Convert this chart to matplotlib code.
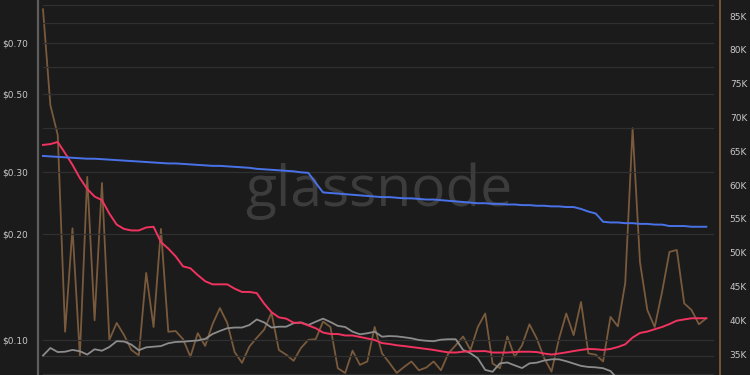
import matplotlib
matplotlib.use("Agg")
import matplotlib.pyplot as plt
import matplotlib.ticker as mticker
import numpy as np

# ---- data ----
price_blue = [0.334, 0.333, 0.332, 0.331, 0.330, 0.329, 0.328, 0.328, 0.327, 0.326,
              0.325, 0.324, 0.323, 0.322, 0.321, 0.320, 0.319, 0.318, 0.318, 0.317,
              0.316, 0.315, 0.314, 0.313, 0.313, 0.312, 0.311, 0.310, 0.309, 0.307,
              0.306, 0.305, 0.304, 0.303, 0.302, 0.300, 0.299, 0.280, 0.263, 0.262,
              0.261, 0.260, 0.259, 0.258, 0.257, 0.256, 0.255, 0.255, 0.254, 0.253,
              0.253, 0.252, 0.251, 0.251, 0.250, 0.249, 0.248, 0.247, 0.246, 0.245,
              0.245, 0.244, 0.244, 0.243, 0.243, 0.242, 0.242, 0.241, 0.241, 0.240,
              0.240, 0.239, 0.239, 0.236, 0.232, 0.229, 0.217, 0.216, 0.216, 0.215,
              0.215, 0.214, 0.214, 0.213, 0.213, 0.211, 0.211, 0.211, 0.210, 0.210,
              0.210]

price_red = [0.359, 0.361, 0.366, 0.340, 0.315, 0.289, 0.269, 0.256, 0.250, 0.229,
             0.213, 0.207, 0.205, 0.205, 0.209, 0.210, 0.190, 0.182, 0.173, 0.162,
             0.160, 0.153, 0.147, 0.144, 0.144, 0.144, 0.140, 0.137, 0.137, 0.136,
             0.127, 0.120, 0.116, 0.115, 0.112, 0.112, 0.110, 0.108, 0.105, 0.104,
             0.104, 0.103, 0.103, 0.102, 0.101, 0.100, 0.098, 0.0974, 0.0966, 0.0961,
             0.0955, 0.0949, 0.0943, 0.0937, 0.0929, 0.0922, 0.0921, 0.0926, 0.0929, 0.0929,
             0.0930, 0.0921, 0.0921, 0.0921, 0.0924, 0.0926, 0.0926, 0.0924, 0.0915, 0.0909,
             0.0915, 0.0922, 0.0930, 0.0937, 0.0943, 0.0941, 0.0937, 0.0943, 0.0955, 0.0972,
             0.1016, 0.1047, 0.1057, 0.1073, 0.1089, 0.1110, 0.1135, 0.1144, 0.1153, 0.1153,
             0.1153]

price_grey = [0.0903, 0.0949, 0.0924, 0.0926, 0.0937, 0.0929, 0.0909, 0.0941, 0.0932, 0.0955,
              0.0992, 0.0990, 0.0970, 0.0935, 0.0953, 0.0957, 0.0961, 0.0979, 0.0987, 0.0989,
              0.0993, 0.0997, 0.1007, 0.1040, 0.1061, 0.1080, 0.1085, 0.1085, 0.1103, 0.1144,
              0.1122, 0.1085, 0.1091, 0.1091, 0.1116, 0.1122, 0.1103, 0.1127, 0.1150, 0.1125,
              0.1097, 0.1089, 0.1056, 0.1038, 0.1045, 0.1056, 0.1022, 0.1026, 0.1024, 0.1018,
              0.1011, 0.1000, 0.0995, 0.0992, 0.1002, 0.1005, 0.1005, 0.0937, 0.0917, 0.0887,
              0.0822, 0.0812, 0.0858, 0.0863, 0.0847, 0.0832, 0.0858, 0.0862, 0.0874, 0.0881,
              0.0881, 0.0870, 0.0857, 0.0844, 0.0838, 0.0836, 0.0831, 0.0816, 0.0774]

volume_k = [86.0, 71.8, 67.4, 38.3, 53.6, 34.7, 61.2, 40.0, 60.3, 37.1,
            39.6, 37.8, 35.6, 34.8, 47.0, 39.0, 53.5, 38.3, 38.4, 37.2,
            34.6, 38.1, 36.2, 39.4, 41.8, 39.6, 35.3, 33.7, 36.1, 37.4,
            38.6, 41.1, 35.6, 34.9, 34.0, 35.9, 37.1, 37.2, 39.8, 39.0,
            32.9, 32.2, 35.5, 33.4, 33.9, 39.0, 35.1, 33.7, 32.2, 33.1,
            33.9, 32.6, 33.0, 33.9, 32.6, 35.1, 36.3, 37.6, 35.6, 39.0,
            41.0, 33.6, 32.9, 37.6, 34.6, 36.3, 39.4, 37.3, 34.4, 32.4,
            37.2, 41.0, 37.8, 42.7, 35.1, 34.9, 33.9, 40.5, 39.1, 45.5,
            68.4, 48.6, 41.5, 39.0, 44.2, 50.1, 50.4, 42.5, 41.5, 39.4,
            40.3]

left_ticks = [0.1, 0.2, 0.3, 0.5, 0.7]
left_labels = ["$0.10", "$0.20", "$0.30", "$0.50", "$0.70"]
grid_levels = [0.08, 0.09, 0.1, 0.2, 0.3, 0.4, 0.5, 0.6, 0.7, 0.8, 0.9]
right_ticks = [35, 40, 45, 50, 55, 60, 65, 70, 75, 80, 85]
right_labels = ["35K", "40K", "45K", "50K", "55K", "60K", "65K", "70K", "75K", "80K", "85K"]

# ---- style ----
BG = "#1b1b1b"
BLUE = "#4a72e8"
RED = "#f0335f"
GREY = "#8c8c8c"
BROWN = "#7a5a3c"
TXT = "#c8c8c8"

W, H = 750, 375
fig = plt.figure(figsize=(7.5, 3.75), dpi=100, facecolor=BG)
ax2 = fig.add_axes([38 / W, 0, (720 - 38) / W, 1])
ax = ax2.twinx()
ax2.set_facecolor(BG)
ax.patch.set_visible(False)

xmin = -5 / 7.37
xmax = 90 + (720 - 706.3) / 7.37

# right axis (brown volume), drawn beneath the price lines
ax2.plot(np.arange(len(volume_k)), volume_k, color=BROWN, lw=1.3, zorder=2)
ax2.set_xlim(xmin, xmax)
ax2.set_ylim(31.9, 87.37)

# left axis (log prices)
ax.set_yscale("log")
ax.set_xlim(xmin, xmax)
ax.set_ylim(0.0795, 0.928)
for g in grid_levels:
    ax2.axhline(0, color="none")
    ax.axhline(g, xmin=5 / 682, xmax=(713 - 38) / 682, color="#303030", lw=0.9, zorder=0)

ax.plot(np.arange(len(price_grey)), price_grey, color=GREY, lw=1.3, zorder=3)
ax.plot(np.arange(len(price_red)), price_red, color=RED, lw=1.4, zorder=4)
ax.plot(np.arange(len(price_blue)), price_blue, color=BLUE, lw=1.4, zorder=5)

ax.yaxis.tick_left()
ax2.yaxis.tick_right()
ax.set_yticks(left_ticks)
ax.set_yticklabels(left_labels)
ax.yaxis.set_minor_locator(mticker.NullLocator())
ax.tick_params(axis="y", length=0, pad=7, labelsize=6.5, labelcolor=TXT)
ax2.set_yticks(right_ticks)
ax2.set_yticklabels(right_labels)
ax2.tick_params(axis="y", length=0, pad=7, labelsize=6.5, labelcolor=TXT)
ax.set_xticks([])
ax2.set_xticks([])

for a in (ax, ax2):
    for s in a.spines.values():
        s.set_visible(False)
ax.spines["left"].set_visible(True)
ax.spines["left"].set_color("#5e5e5e")
ax.spines["left"].set_linewidth(1.6)
ax.spines["right"].set_visible(True)
ax.spines["right"].set_color(BROWN)
ax.spines["right"].set_linewidth(1.3)

# watermark
ax.text(0.5, 0.49, "glassnode", transform=ax.transAxes, ha="center", va="center",
        fontsize=41, color="#3c3c3c", family="Open Sans", zorder=1)

fig.savefig("out.png", dpi=100, facecolor=BG)
